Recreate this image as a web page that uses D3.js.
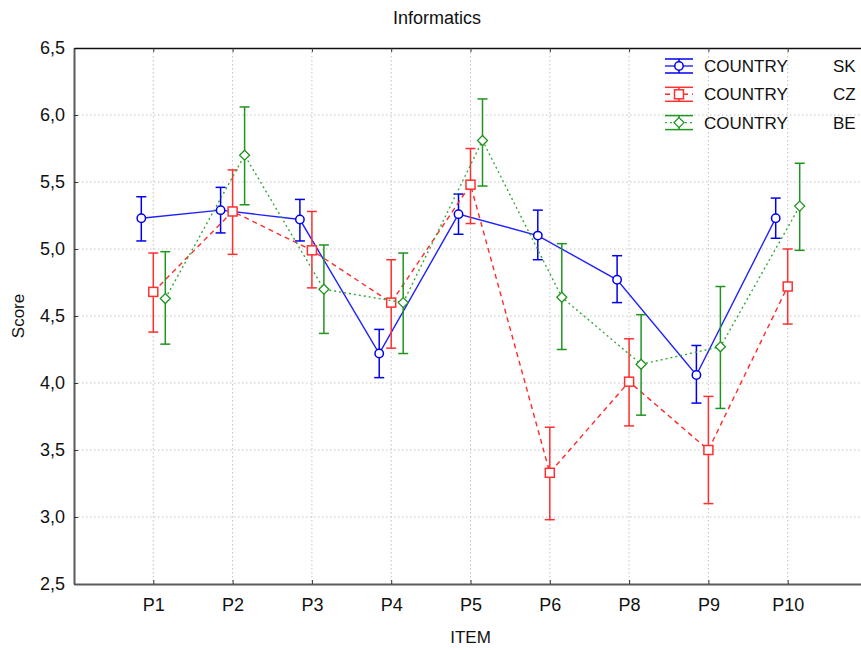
<!DOCTYPE html>
<html>
<head>
<meta charset="utf-8">
<script src="https://cdn.jsdelivr.net/npm/d3@7"></script>
<style>
  body { margin: 0; background: #fff; }
  svg text { font-family: "Liberation Sans", Arial, sans-serif; fill: #111; }
</style>
</head>
<body>
<svg id="chart" width="861" height="650"></svg>
<script>
// categories on the x axis
var items = ["P1", "P2", "P3", "P4", "P5", "P6", "P8", "P9", "P10"];

// SK means + 95% interval
var skMean = [5.23, 5.29, 5.22, 4.22, 5.26, 5.10, 4.77, 4.06, 5.23];
var skLow  = [5.06, 5.12, 5.06, 4.04, 5.11, 4.92, 4.60, 3.85, 5.08];
var skHigh = [5.39, 5.46, 5.37, 4.40, 5.41, 5.29, 4.95, 4.28, 5.38];

// CZ
var czMean = [4.68, 5.28, 4.99, 4.60, 5.48, 3.33, 4.01, 3.50, 4.72];
var czLow  = [4.38, 4.96, 4.71, 4.26, 5.19, 2.98, 3.68, 3.10, 4.44];
var czHigh = [4.97, 5.59, 5.28, 4.92, 5.75, 3.67, 4.33, 3.90, 5.00];

// BE
var beMean = [4.63, 5.70, 4.70, 4.60, 5.81, 4.64, 4.14, 4.27, 5.32];
var beLow  = [4.29, 5.33, 4.37, 4.22, 5.47, 4.25, 3.76, 3.81, 4.99];
var beHigh = [4.98, 6.06, 5.03, 4.97, 6.12, 5.04, 4.51, 4.72, 5.64];

var yTicks = [2.5, 3.0, 3.5, 4.0, 4.5, 5.0, 5.5, 6.0, 6.5];
var countries = ["SK", "CZ", "BE"];

var svg = d3.select("#chart"),
    margin = {top: 48, left: 74, bottom: 584, right: 867};

var x = d3.scalePoint().domain(items).range([margin.left, margin.right]).padding(1);
var y = d3.scaleLinear().domain([2.5, 6.5]).range([margin.bottom, margin.top]);
var comma = function(d) { return d3.format(".1f")(d).replace(".", ","); };

// series settings: offset from category center, colours, dash, marker
var series = [
  {name: "SK", mean: skMean, low: skLow, high: skHigh, dx: -12, line: "#2020ff", bar: "#0000f0", dash: null, marker: "circle"},
  {name: "CZ", mean: czMean, low: czLow, high: czHigh, dx: 0, line: "#ff2a2a", bar: "#ff3030", dash: "5,4", marker: "square"},
  {name: "BE", mean: beMean, low: beLow, high: beHigh, dx: 12, line: "#3aa83a", bar: "#1f941f", dash: "2,3", marker: "diamond"}
];

//grid
var grid = svg.append("g").attr("stroke", "#c4c4c4").attr("stroke-dasharray", "1.5,2.5");
grid.selectAll(".hg").data(yTicks.slice(1, -1)).enter().append("line")
  .attr("x1", margin.left).attr("x2", margin.right)
  .attr("y1", function(d) { return y(d); }).attr("y2", function(d) { return y(d); });
grid.selectAll(".vg").data(items).enter().append("line")
  .attr("y1", margin.top).attr("y2", margin.bottom)
  .attr("x1", function(d) { return x(d); }).attr("x2", function(d) { return x(d); });

// axes (ticks point inwards)
var yAxis = d3.axisLeft(y).tickValues(yTicks).tickFormat(comma).tickSizeInner(-4).tickSizeOuter(0).tickPadding(9);
var gy = svg.append("g").attr("transform", "translate(" + margin.left + ",0)").call(yAxis);
var xAxis = d3.axisBottom(x).tickSizeInner(-4).tickSizeOuter(0).tickPadding(14);
var gx = svg.append("g").attr("transform", "translate(0," + margin.bottom + ")").call(xAxis);
var xTop = d3.axisTop(x).tickSizeInner(-4).tickSizeOuter(0).tickFormat("");
var gt = svg.append("g").attr("transform", "translate(0," + margin.top + ")").call(xTop);

[gy, gx].forEach(function(g) {
  g.select(".domain").attr("stroke", "#5a5a5a").attr("stroke-width", 2);
  g.selectAll(".tick line").attr("stroke", "#333");
  g.selectAll(".tick text").style("font-size", "18px").attr("fill", "#111");
});
gt.select(".domain").attr("stroke", "#111").attr("stroke-width", 1.5);
gt.selectAll(".tick line").attr("stroke", "#333");

// titles
svg.append("text").attr("x", 437).attr("y", 24).attr("text-anchor", "middle")
  .style("font-size", "18px").text("Informatics");
svg.append("text").attr("x", (margin.left + margin.right) / 2).attr("y", 643).attr("text-anchor", "middle")
  .style("font-size", "17px").text("ITEM");
svg.append("text").attr("transform", "translate(24," + ((margin.top + margin.bottom) / 2) + ") rotate(-90)")
  .attr("text-anchor", "middle").style("font-size", "17px").text("Score");

function drawMarker(g, type, cx, cy, color) {
  if (type === "circle") {
    g.append("circle").attr("cx", cx).attr("cy", cy).attr("r", 4.2)
      .attr("fill", "#fff").attr("stroke", color).attr("stroke-width", 1.5);
  } else if (type === "square") {
    g.append("rect").attr("x", cx - 4.5).attr("y", cy - 4.5).attr("width", 9).attr("height", 9)
      .attr("fill", "#fff").attr("stroke", color).attr("stroke-width", 1.5);
  } else {
    g.append("path").attr("d", "M" + cx + "," + (cy - 5) + "L" + (cx + 5) + "," + cy + "L" + cx + "," + (cy + 5) + "L" + (cx - 5) + "," + cy + "Z")
      .attr("fill", "#fff").attr("stroke", color).attr("stroke-width", 1.3);
  }
}

// series
series.forEach(function(s) {
  var g = svg.append("g");
  var line = d3.line()
    .x(function(d, i) { return x(items[i]) + s.dx; })
    .y(function(d) { return y(d); });
  g.append("path").datum(s.mean).attr("d", line)
    .attr("fill", "none").attr("stroke", s.line).attr("stroke-width", 1.4)
    .attr("stroke-dasharray", s.dash);

  items.forEach(function(it, i) {
    var cx = x(it) + s.dx;
    g.append("line").attr("x1", cx).attr("x2", cx).attr("y1", y(s.low[i])).attr("y2", y(s.high[i]))
      .attr("stroke", s.bar).attr("stroke-width", 1.5);
    [s.low[i], s.high[i]].forEach(function(v) {
      g.append("line").attr("x1", cx - 5).attr("x2", cx + 5).attr("y1", y(v)).attr("y2", y(v))
        .attr("stroke", s.bar).attr("stroke-width", 1.5);
    });
    drawMarker(g, s.marker, cx, y(s.mean[i]), s.bar);
  });
});

// legend
var leg = svg.append("g");
series.forEach(function(s, i) {
  var cy = 66 + i * 28.3, cx = 679;
  var lg = leg.append("g");
  lg.append("line").attr("x1", 665).attr("x2", 693).attr("y1", cy - 7).attr("y2", cy - 7).attr("stroke", s.bar).attr("stroke-width", 1.5);
  lg.append("line").attr("x1", 665).attr("x2", 693).attr("y1", cy + 7).attr("y2", cy + 7).attr("stroke", s.bar).attr("stroke-width", 1.5);
  lg.append("line").attr("x1", cx).attr("x2", cx).attr("y1", cy - 7).attr("y2", cy + 7).attr("stroke", s.bar).attr("stroke-width", 1.5);
  lg.append("line").attr("x1", 665).attr("x2", 693).attr("y1", cy).attr("y2", cy)
    .attr("stroke", s.line).attr("stroke-width", 1.4).attr("stroke-dasharray", s.dash);
  drawMarker(lg, s.marker, cx, cy, s.bar);
  lg.append("text").attr("x", 704).attr("y", cy + 6).style("font-size", "17px").text("COUNTRY");
  lg.append("text").attr("x", 833).attr("y", cy + 6).style("font-size", "17px").text(countries[i]);
});
</script>
</body>
</html>
